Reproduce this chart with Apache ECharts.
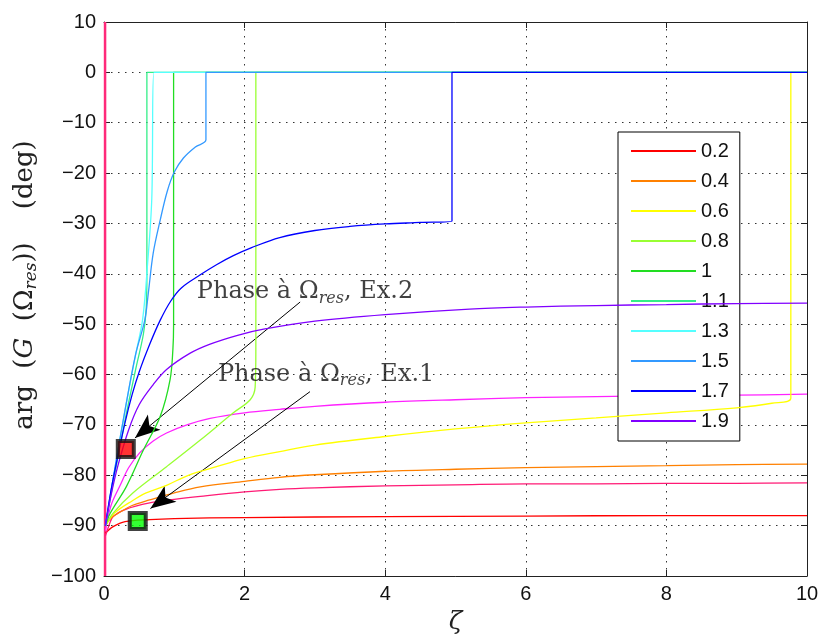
<!DOCTYPE html>
<html>
<head>
<meta charset="utf-8">
<script src="https://cdn.jsdelivr.net/npm/echarts@6/dist/echarts.min.js"></script>
<style>
html,body{margin:0;padding:0;background:#fff;}
#main{width:822px;height:634px;}
</style>
</head>
<body>
<div id="main"></div>
<script>
// ---- data (x = zeta, y = phase in deg); corner points are repeated to keep the corners sharp ----
const legendNames = ['0.2','0.4','0.6','0.8','1','1.1','1.3','1.5','1.7','1.9'];
const seriesColors = ['#ff0000','#ff8000','#ffff00','#99ff33','#22dd22','#33ee88','#55ffff','#3399ff','#0000ff','#8000ff'];

const s02 = [[0.02,-91.5],[0.13,-90.2],[0.3,-89.2],[0.65,-88.8],[1,-88.6],[2,-88.4],[4,-88.2],[6,-88.1],[8,-88.0],[10,-88.0]];
const s04 = [[0.02,-90],[0.1,-88.5],[0.23,-87.3],[0.4,-86],[0.65,-84.9],[1,-83.5],[1.37,-82.3],[2,-81.2],[2.5,-80.4],[3,-79.9],[4,-79.2],[5,-78.8],[6,-78.5],[7,-78.3],[8,-78.1],[9,-77.9],[10,-77.8]];
const s06 = [[0.02,-90],[0.15,-87.5],[0.41,-85],[0.6,-83.5],[0.89,-82],[1.2,-80],[1.6,-78.3],[2,-76.7],[2.5,-75.3],[3,-74],[4,-72.3],[5,-70.8],[6,-69.6],[7,-68.6],[8,-67.6],[9,-66.6],[9.5,-65.7],[9.77,-64.7],[9.77,-64.7],[9.77,0],[9.77,0],[10,0]];
const s08 = [[0.02,-90],[0.13,-87.5],[0.41,-83.5],[0.89,-78.3],[1.37,-73],[1.84,-67.6],[2.08,-65],[2.15,-62.5],[2.16,-55],[2.16,-55],[2.16,0],[2.16,0],[10,0]];
const s10 = [[0.02,-90],[0.09,-87.5],[0.32,-82.2],[0.56,-75],[0.8,-68.3],[0.94,-61],[0.98,-55],[0.99,-50],[0.99,-50],[0.99,0],[0.99,0],[10,0]];
const s11 = [[0.02,-90],[0.15,-80],[0.3,-69],[0.45,-59],[0.56,-52],[0.6,-47],[0.61,-40],[0.61,-40],[0.61,0],[0.61,0],[10,0]];
const s13 = [[0.02,-90],[0.15,-79],[0.3,-67],[0.45,-56],[0.55,-49],[0.62,-38],[0.68,-25],[0.71,0],[0.71,0],[10,0]];
const s15 = [[0.02,-90],[0.15,-79],[0.3,-67],[0.45,-56],[0.58,-49.2],[0.63,-43.9],[0.7,-35.9],[0.8,-29.3],[0.9,-23.6],[1.0,-19.8],[1.13,-17],[1.3,-14.8],[1.45,-13.4],[1.45,-13.4],[1.45,0],[1.45,0],[10,0]];
const s17 = [[0.02,-90],[0.1,-83],[0.2,-76],[0.3,-69.5],[0.4,-64],[0.5,-59.5],[0.65,-54],[0.8,-49.2],[0.95,-45.4],[1.1,-42.8],[1.37,-40.2],[1.6,-38.2],[1.84,-36.4],[2.1,-34.8],[2.5,-32.8],[3,-31.4],[3.5,-30.6],[4,-30.1],[4.5,-29.8],[4.95,-29.5],[4.95,-29.5],[4.95,0],[4.95,0],[10,0]];
const s19 = [[0.02,-90],[0.1,-84],[0.2,-78],[0.35,-71],[0.5,-66],[0.7,-62],[0.89,-59],[1.22,-55.8],[1.5,-54],[1.9,-52.2],[2.27,-51],[3,-49.4],[4,-48.1],[5.2,-47],[6,-46.6],[7,-46.3],[8,-46.1],[9,-45.9],[10,-45.8]];
const sMagenta = [[0.02,-91],[0.1,-86],[0.23,-82],[0.35,-78.5],[0.51,-75.5],[0.7,-73.2],[0.89,-71.6],[1.2,-69.9],[1.51,-68.7],[2,-67.6],[2.5,-66.9],[3,-66.3],[4,-65.5],[5,-65],[6,-64.6],[7,-64.4],[8,-64.2],[9,-64.1],[10,-63.9]];
const sPink = [[0.02,-92],[0.07,-90],[0.13,-88.2],[0.3,-86.8],[0.65,-85.5],[1,-84.8],[1.37,-84.2],[2,-83.3],[2.5,-82.8],[3,-82.5],[4,-82.1],[5,-81.9],[6,-81.7],[7,-81.7],[8,-81.6],[9,-81.6],[10,-81.5]];
const sPinkEdge = [[0.015,-100],[0.015,10]];

const markerEx2 = [0.31,-74.8];
const markerEx1 = [0.48,-89.1];
const arrowEx2 = [[2.79,-45.6],[0.44,-72.6]];
const arrowEx1 = [[2.93,-63.4],[0.66,-86.6]];
const textEx2 = [1.32,-43.6];
const textEx1 = [1.62,-60.0];

const xTicks = {min:0, max:10, interval:2};
const yTicks = {min:-100, max:10, interval:10};

const curves = [s02,s04,s06,s08,s10,s11,s13,s15,s17,s19];

const chart = echarts.init(document.getElementById('main'), null, {renderer:'canvas'});

const serif = 'DejaVu Serif';
const sans = 'Liberation Sans';

const series = [];
series.push({type:'line', name:'pinkEdge', data:sPinkEdge, symbol:'none', lineStyle:{color:'#ff2a7a', width:2.5}, z:2});
curves.forEach((d,i)=>{
  series.push({type:'line', name:legendNames[i], data:d, symbol:'none', smooth:0.35, color:seriesColors[i], lineStyle:{width:1.3, color:seriesColors[i]}, z:3+i});
  if (i === 2) {
    series.push({type:'line', name:'extraPink', data:sPink, symbol:'none', smooth:0.35, lineStyle:{width:1.3, color:'#ff1a75'}, z:3});
  }
  if (i === 5) {
    series.push({type:'line', name:'extraMagenta', data:sMagenta, symbol:'none', smooth:0.35, lineStyle:{width:1.3, color:'#ff22ff'}, z:3});
  }
});

const richText = {
  a:{fontFamily:serif, fontSize:24, color:'#111', lineHeight:30},
  s:{fontFamily:serif, fontStyle:'italic', fontSize:16, color:'#111', lineHeight:30, padding:[13,0,0,0]}
};

series.push({
  type:'line', name:'arrows', data:[], symbol:'none',
  markLine:{
    silent:true, animation:false,
    symbol:['none','arrow'], symbolSize:[15,25],
    lineStyle:{color:'#000', width:1, type:'solid'},
    label:{show:false},
    data:[
      [{coord:arrowEx2[0]},{coord:arrowEx2[1]}],
      [{coord:arrowEx1[0]},{coord:arrowEx1[1]}]
    ]
  },
  z:20
});
series.push({
  type:'scatter', name:'markers', symbol:'rect', symbolSize:16,
  data:[
    {value:markerEx2, itemStyle:{color:'#ff0000'}},
    {value:markerEx1, itemStyle:{color:'#00ff00'}}
  ],
  itemStyle:{borderColor:'#111', borderWidth:4},
  z:21
});
series.push({
  type:'scatter', name:'texts', symbolSize:0,
  data:[
    {value:textEx2, label:{formatter:'{a|Phase à Ω}{s|res}{a|, Ex.2}'}},
    {value:textEx1, label:{formatter:'{a|Phase à Ω}{s|res}{a|, Ex.1}'}}
  ],
  label:{show:true, position:'right', distance:0, align:'left', verticalAlign:'middle', rich:richText},
  z:22
});

const axisLine = {show:true, onZero:false, lineStyle:{color:'#222', width:1}};
const tick = {show:true, inside:true, length:6, lineStyle:{color:'#222'}};
const grid = {show:true, lineStyle:{color:'#333', width:1, type:[1.5,5.5]}};

chart.setOption({
  animation:false,
  backgroundColor:'#fff',
  grid:{left:104, right:15, top:22, bottom:58, containLabel:false, outerBoundsMode:'none'},
  legend:{
    data:legendNames, orient:'vertical', left:618, top:132,
    icon:'rect', itemWidth:65, itemHeight:2, itemGap:10,
    backgroundColor:'#fff', borderColor:'#000', borderWidth:1,
    padding:[9,11,10,13],
    textStyle:{fontFamily:sans, fontSize:20, color:'#111'},
    selectedMode:false
  },
  xAxis:[
    {type:'value', min:xTicks.min, max:xTicks.max, interval:xTicks.interval, position:'bottom',
     axisLine:axisLine, axisTick:tick, splitLine:grid,
     axisLabel:{fontFamily:sans, fontSize:20, color:'#111', margin:8},
     name:'ζ', nameLocation:'middle', nameGap:34,
     nameTextStyle:{fontFamily:serif, fontStyle:'italic', fontSize:25, color:'#222'}},
    {type:'value', min:xTicks.min, max:xTicks.max, interval:xTicks.interval, position:'top',
     axisLine:axisLine, axisTick:tick, splitLine:{show:false}, axisLabel:{show:false}}
  ],
  yAxis:[
    {type:'value', min:yTicks.min, max:yTicks.max, interval:yTicks.interval, position:'left',
     axisLine:axisLine, axisTick:tick, splitLine:grid,
     axisLabel:{fontFamily:sans, fontSize:20, color:'#111', margin:8, formatter:v=>String(v).replace('-','\u2212')},
     name:'{a|arg}{a|  (}{i|G}{a|  (Ω}{s|res}{a|))    (deg)}', nameLocation:'middle', nameGap:47, nameRotate:90,
     nameTextStyle:{padding:[0,0,0,28], rich:{
       a:{fontFamily:serif, fontSize:26, color:'#222', lineHeight:30},
       i:{fontFamily:serif, fontStyle:'italic', fontSize:26, color:'#222', lineHeight:30},
       s:{fontFamily:serif, fontStyle:'italic', fontSize:17, color:'#222', lineHeight:30, padding:[13,0,0,0]}
     }}},
    {type:'value', min:yTicks.min, max:yTicks.max, interval:yTicks.interval, position:'right',
     axisLine:axisLine, axisTick:tick, splitLine:{show:false}, axisLabel:{show:false}}
  ],
  series:series
});
</script>
</body>
</html>
